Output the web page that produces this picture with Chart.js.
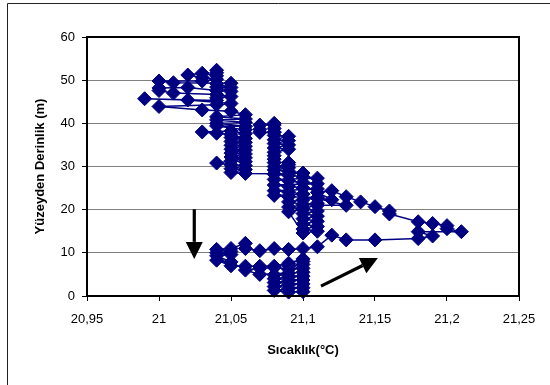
<!DOCTYPE html>
<html>
<head>
<meta charset="utf-8">
<script src="https://cdn.jsdelivr.net/npm/chart.js@4/dist/chart.umd.min.js"></script>
<style>
  html, body { margin: 0; padding: 0; background: #fff; }
  #wrap { width: 550px; height: 385px; }
</style>
</head>
<body>
<div id="wrap"><canvas id="c" width="550" height="385"></canvas></div>
<script>
// Temperature profile (°C) against depth below surface (m), in measurement order
const temps = [
  21.10, 21.09, 21.08, 21.09, 21.10, 21.08, 21.09, 21.10, 21.08, 21.09,
  21.10, 21.08, 21.09, 21.10, 21.08, 21.09, 21.10, 21.07, 21.06, 21.07,
  21.08, 21.09, 21.10, 21.09, 21.10, 21.10, 21.10, 21.09, 21.08, 21.07,
  21.06, 21.05, 21.04, 21.05, 21.04, 21.05, 21.04, 21.05, 21.04, 21.05,
  21.06, 21.06, 21.07, 21.08, 21.09, 21.10, 21.11,
  21.12, 21.13, 21.15, 21.18, 21.19, 21.18, 21.21, 21.20, 21.20, 21.19,
  21.18, 21.16, 21.16, 21.15, 21.14, 21.13, 21.12, 21.11, 21.12, 21.11,
  21.13, 21.11,
  21.10, 21.11, 21.10, 21.11, 21.10, 21.11, 21.10, 21.11, 21.10, 21.11, 21.10,
  21.09, 21.10, 21.09, 21.11, 21.10, 21.09, 21.10, 21.11, 21.09, 21.08,
  21.10, 21.09, 21.08, 21.11, 21.10, 21.09, 21.08, 21.11, 21.10, 21.09,
  21.08, 21.11, 21.10, 21.09, 21.08, 21.10, 21.09, 21.08, 21.09, 21.08,
  21.09, 21.09, 21.08, 21.08, 21.08, 21.08, 21.09, 21.08, 21.09, 21.08,
  21.09, 21.08, 21.09, 21.08, 21.08, 21.08, 21.08, 21.08, 21.07, 21.07,
  21.07, 21.08, 21.08,
  21.06, 21.05, 21.06, 21.05, 21.06, 21.05, 21.04, 21.05, 21.06, 21.05,
  21.06, 21.05, 21.06, 21.05, 21.06, 21.05, 21.06, 21.05, 21.06, 21.05,
  21.06, 21.05, 21.04, 21.03, 21.05, 21.06, 21.06, 21.04, 21.06, 21.04,
  21.06, 21.04, 21.06, 21.04, 21.06, 21.05,
  21.03, 21.00, 21.04, 21.05, 21.02, 20.99, 21.04, 21.04, 21.05, 21.04,
  21.01, 21.00, 21.00, 21.02, 21.04, 21.05, 21.04, 21.05, 21.04, 21.05,
  21.01, 21.00, 21.03, 21.04, 21.03, 21.02, 21.03, 21.04, 21.04, 21.04
];
const depths = [
  1.0, 0.9, 1.3, 1.7, 1.9, 2.2, 2.6, 2.8, 3.1, 3.5,
  3.7, 4.0, 4.4, 4.6, 4.9, 5.3, 5.5, 5.0, 6.0, 6.4,
  6.6, 6.2, 6.4, 7.0, 7.3, 8.0, 8.6, 7.6, 6.9, 6.9,
  6.9, 7.0, 8.3, 7.9, 9.3, 9.6, 10.0, 10.3, 10.8, 11.0,
  12.2, 11.0, 10.5, 11.0, 10.8, 11.0, 11.4,
  14.1, 13.0, 13.0, 13.3, 13.9, 14.9, 14.9, 15.6, 16.3, 16.8,
  17.2, 19.0, 19.7, 20.7, 21.8, 23.0, 24.4, 24.0, 22.3, 22.6,
  21.0, 21.0,
  20.3, 19.7, 19.1, 18.5, 17.9, 17.3, 16.7, 16.1, 15.5, 15.0, 14.6,
  19.5, 20.1, 20.6, 21.5, 21.2, 21.8, 22.3, 22.8, 23.0, 23.3,
  23.6, 24.1, 24.4, 24.8, 25.0, 25.4, 25.7, 26.0, 26.3, 26.7,
  27.0, 27.3, 27.6, 28.0, 28.2, 28.5, 28.9, 29.2, 29.7, 30.0,
  30.4, 30.9, 30.9, 31.7, 32.5, 33.3, 34.0, 34.3, 35.0, 35.3,
  36.0, 36.2, 37.0, 37.2, 38.0, 38.8, 39.6, 40.0, 39.6, 38.6,
  37.9, 37.9, 28.3,
  28.4, 28.6, 29.3, 29.5, 30.2, 30.4, 30.8, 31.3, 31.1, 32.2,
  32.0, 33.1, 32.9, 34.0, 33.8, 34.9, 34.7, 35.8, 35.6, 36.7,
  36.5, 37.4, 37.7, 38.0, 38.2, 37.6, 38.5, 39.4, 39.3, 40.0,
  40.2, 40.8, 41.0, 41.5, 42.0, 42.8,
  43.1, 43.9, 44.3, 44.6, 45.4, 45.7, 45.3, 45.9, 46.2, 46.7,
  47.0, 47.6, 48.2, 48.3, 47.6, 47.4, 48.4, 48.3, 49.2, 49.3,
  49.4, 49.8, 49.8, 50.2, 50.6, 51.2, 51.6, 51.0, 51.7, 52.3
];

// Axis ticks
const xTickValues = [20.95, 21.00, 21.05, 21.10, 21.15, 21.20, 21.25];
const xTickLabels = ['20,95', '21', '21,05', '21,1', '21,15', '21,2', '21,25'];
const yTickValues = [0, 10, 20, 30, 40, 50, 60];

// Direction arrows drawn over the profile: [temp, depth] tail -> tip
const downArrow = { from: [21.0245, 20.1], to: [21.0245, 8.6] };
const riseArrow = { from: [21.1125, 2.3], to: [21.152, 8.8] };

const points = temps.map((t, i) => ({ x: t, y: depths[i] }));
const NAVY = '#000080';
const FONT = "'Liberation Sans', Arial, sans-serif";
Chart.defaults.font.family = FONT;
Chart.defaults.color = '#000';

const pagePlugin = {
  id: 'page',
  beforeDraw(chart) {
    const ctx = chart.ctx;
    ctx.save();
    ctx.fillStyle = '#fff';
    ctx.fillRect(0, 0, chart.width, chart.height);
    // outer frame edges
    ctx.strokeStyle = '#222';
    ctx.lineWidth = 1;
    ctx.beginPath();
    ctx.moveTo(7.5, chart.height);
    ctx.lineTo(7.5, 3.5);
    ctx.lineTo(chart.width, 3.5);
    ctx.stroke();
    ctx.restore();
  },
  afterDatasetsDraw(chart) {
    const ctx = chart.ctx;
    const a = chart.chartArea;
    ctx.save();
    ctx.strokeStyle = '#000';
    ctx.lineWidth = 2;
    ctx.strokeRect(a.left, a.top, a.right - a.left, a.bottom - a.top);
    const xs = chart.scales.x, ys = chart.scales.y;
    const arrow = (spec) => {
      const x0 = xs.getPixelForValue(spec.from[0]), y0 = ys.getPixelForValue(spec.from[1]);
      const x1 = xs.getPixelForValue(spec.to[0]), y1 = ys.getPixelForValue(spec.to[1]);
      const ang = Math.atan2(y1 - y0, x1 - x0);
      const headLen = 17, headHalf = 8.5;
      const bx = x1 - headLen * Math.cos(ang), by = y1 - headLen * Math.sin(ang);
      ctx.strokeStyle = '#000';
      ctx.lineWidth = 3.2;
      ctx.beginPath();
      ctx.moveTo(x0, y0);
      ctx.lineTo(bx, by);
      ctx.stroke();
      ctx.fillStyle = '#000';
      ctx.beginPath();
      ctx.moveTo(x1, y1);
      ctx.lineTo(bx + headHalf * Math.sin(ang), by - headHalf * Math.cos(ang));
      ctx.lineTo(bx - headHalf * Math.sin(ang), by + headHalf * Math.cos(ang));
      ctx.closePath();
      ctx.fill();
    };
    arrow(downArrow);
    arrow(riseArrow);
    ctx.restore();
  }
};

new Chart(document.getElementById('c'), {
  type: 'scatter',
  data: {
    datasets: [{
      data: points,
      showLine: true,
      borderColor: NAVY,
      borderWidth: 1.5,
      backgroundColor: NAVY,
      pointStyle: 'rectRot',
      pointRadius: 7,
      pointBorderWidth: 1,
      pointBorderColor: NAVY,
      pointBackgroundColor: NAVY,
      tension: 0,
      clip: 4
    }]
  },
  options: {
    responsive: false,
    animation: false,
    devicePixelRatio: 1,
    layout: { padding: { left: 0, right: 31, top: 37, bottom: 0 } },
    plugins: { legend: { display: false }, tooltip: { enabled: false } },
    scales: {
      x: {
        type: 'linear',
        position: 'bottom',
        min: 20.95,
        max: 21.25,
        afterBuildTicks(scale) { scale.ticks = xTickValues.map(v => ({ value: v })); },
        afterFit(scale) { scale.height = 89; },
        ticks: {
          autoSkip: false,
          maxRotation: 0,
          padding: 11,
          font: { size: 13 },
          color: '#000',
          callback: (v, i) => xTickLabels[i]
        },
        grid: { drawOnChartArea: false, drawTicks: true, tickLength: 5, tickColor: '#000', color: '#000' },
        border: { display: true, color: '#000', width: 2 },
        title: {
          display: true,
          text: 'Sıcaklık(°C)',
          font: { size: 13, weight: 'bold' },
          color: '#000',
          padding: { top: 0, bottom: 27 }
        }
      },
      y: {
        type: 'linear',
        min: 0,
        max: 60,
        afterBuildTicks(scale) { scale.ticks = yTickValues.map(v => ({ value: v })); },
        afterFit(scale) { scale.width = 87; },
        ticks: { padding: 7, font: { size: 13 }, color: '#000' },
        grid: { color: '#808080', lineWidth: 1, drawTicks: true, tickLength: 5, tickColor: '#000' },
        border: { display: true, color: '#000', width: 2 },
        title: {
          display: true,
          text: 'Yüzeyden Derinlik (m)',
          font: { size: 13, weight: 'bold' },
          color: '#000',
          padding: { top: 33, bottom: 0 }
        }
      }
    }
  },
  plugins: [pagePlugin]
});
</script>
</body>
</html>
